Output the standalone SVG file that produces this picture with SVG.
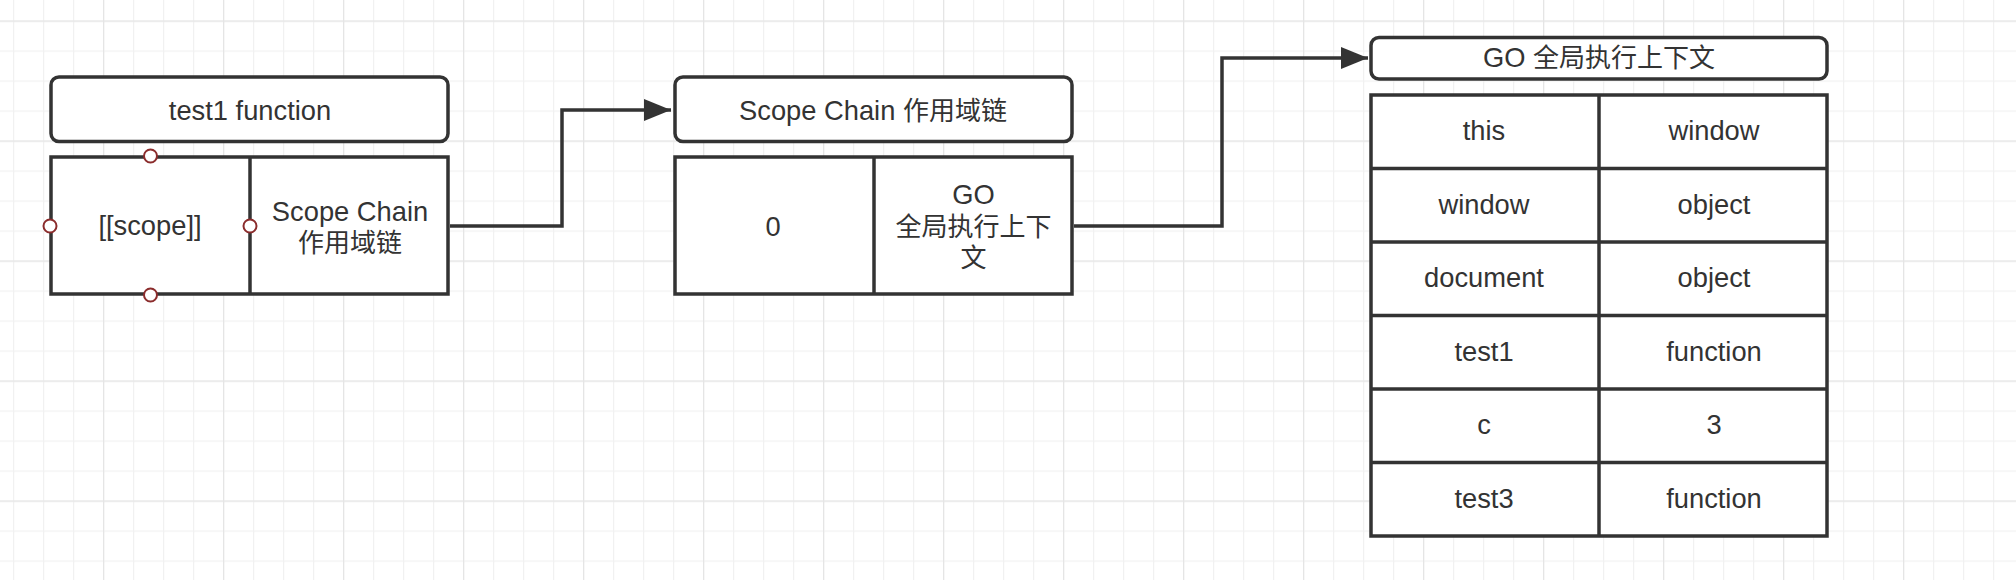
<svg xmlns="http://www.w3.org/2000/svg" width="2016" height="580" viewBox="0 0 2016 580">
  <defs>
    <pattern id="gridMinor" patternUnits="userSpaceOnUse" x="13" y="20.5" width="30" height="30">
      <path d="M0.5 0 V30 M0 0.5 H30" fill="none" stroke="#f1f1f1" stroke-width="1.5"/>
    </pattern>
    <pattern id="gridMajor" patternUnits="userSpaceOnUse" x="-17" y="20.5" width="120" height="120">
      <path d="M0.5 0 V120 M0 0.5 H120" fill="none" stroke="#e5e5e5" stroke-width="1.5"/>
    </pattern>
    <marker id="arrow" markerUnits="userSpaceOnUse" markerWidth="30" markerHeight="24" refX="27" refY="11" orient="auto">
      <path d="M0 0 L27 11 L0 22 Z" fill="#333333"/>
    </marker>
    <style>
      .box { fill: #ffffff; stroke: #333333; stroke-width: 3.5; }
      .line { fill: none; stroke: #333333; stroke-width: 3.5; }
      .conn { fill: none; stroke: #333333; stroke-width: 3.5; }
      .pt { fill: #ffffff; stroke: #8b2c2c; stroke-width: 2; }
      text { font-family: "Liberation Sans", "Noto Sans CJK SC", sans-serif; font-size: 27.3px; fill: #333333; text-anchor: middle; }
      .cjk { font-size: 26px; }
    </style>
  </defs>

  <rect width="2016" height="580" fill="#ffffff"/>
  <rect width="2016" height="580" fill="url(#gridMinor)"/>
  <rect width="2016" height="580" fill="url(#gridMajor)"/>

  <g id="connectors">
    <path class="conn" d="M450 226 H562 V110 H671" marker-end="url(#arrow)"/>
    <path class="conn" d="M1074 226 H1222 V58 H1368" marker-end="url(#arrow)"/>
  </g>

  <g id="test1-header">
    <rect class="box" x="51" y="77" width="397" height="64.5" rx="8"/>
    <text x="250" y="120">test1 function</text>
  </g>

  <g id="test1-table">
    <rect class="box" x="51" y="157" width="397" height="137"/>
    <line class="line" x1="250" y1="157" x2="250" y2="294"/>
    <text x="150" y="235">[[scope]]</text>
    <text x="350" y="220.5">Scope Chain</text>
    <text class="cjk" x="350" y="251.5">作用域链</text>
    <circle class="pt" cx="150.5" cy="156" r="6.5"/>
    <circle class="pt" cx="50" cy="226" r="6.5"/>
    <circle class="pt" cx="250" cy="226" r="6.5"/>
    <circle class="pt" cx="150.5" cy="295" r="6.5"/>
  </g>

  <g id="scope-chain-header">
    <rect class="box" x="675" y="77" width="397" height="64.5" rx="8"/>
    <text x="873" y="119.5">Scope Chain <tspan class="cjk">作用域链</tspan></text>
  </g>

  <g id="scope-chain-table">
    <rect class="box" x="675" y="157" width="397" height="137"/>
    <line class="line" x1="874" y1="157" x2="874" y2="294"/>
    <text x="773" y="235.5">0</text>
    <text x="973.5" y="203.5">GO</text>
    <text class="cjk" x="973.5" y="235.5">全局执行上下</text>
    <text class="cjk" x="973.5" y="266.5">文</text>
  </g>

  <g id="go-header">
    <rect class="box" x="1371" y="37.5" width="456" height="41.5" rx="8"/>
    <text x="1599" y="66.5">GO <tspan class="cjk">全局执行上下文</tspan></text>
  </g>

  <g id="go-table">
    <rect class="box" x="1371" y="95" width="456" height="441"/>
    <line class="line" x1="1599" y1="95" x2="1599" y2="536"/>
    <line class="line" x1="1371" y1="168.5" x2="1827" y2="168.5"/>
    <line class="line" x1="1371" y1="242" x2="1827" y2="242"/>
    <line class="line" x1="1371" y1="315.5" x2="1827" y2="315.5"/>
    <line class="line" x1="1371" y1="389" x2="1827" y2="389"/>
    <line class="line" x1="1371" y1="462.5" x2="1827" y2="462.5"/>
    <text x="1484" y="140">this</text>
    <text x="1714" y="140">window</text>
    <text x="1484" y="213.5">window</text>
    <text x="1714" y="213.5">object</text>
    <text x="1484" y="287">document</text>
    <text x="1714" y="287">object</text>
    <text x="1484" y="360.5">test1</text>
    <text x="1714" y="360.5">function</text>
    <text x="1484" y="434">c</text>
    <text x="1714" y="434">3</text>
    <text x="1484" y="507.5">test3</text>
    <text x="1714" y="507.5">function</text>
  </g>
</svg>
